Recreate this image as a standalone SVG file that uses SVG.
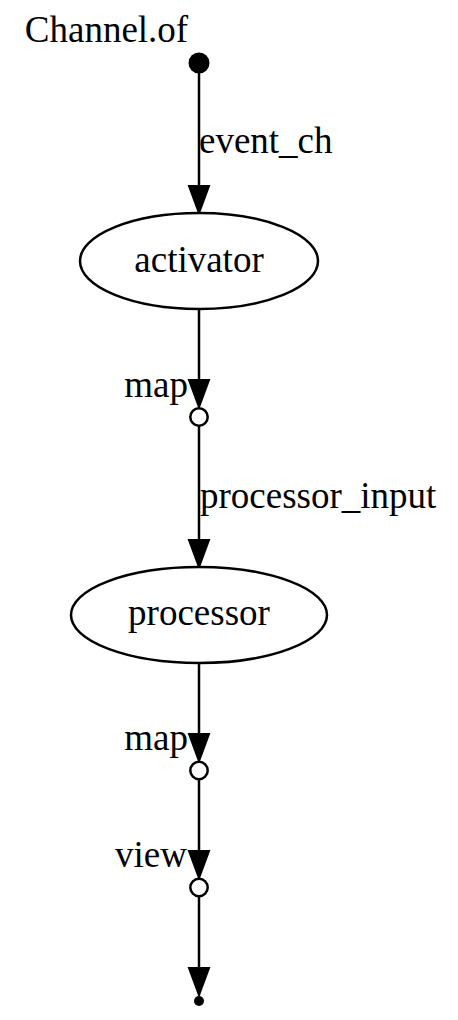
<svg xmlns="http://www.w3.org/2000/svg" width="458" height="1020" viewBox="0 0 458 1020">
<style>
text{font-family:"Liberation Serif","Times New Roman",serif;font-size:37px;fill:#000}
.n{fill:#fff;stroke:#000;stroke-width:2.5}
.e{stroke:#000;stroke-width:2.5;fill:none}
.a{fill:#000;stroke:#000;stroke-width:2}
</style>
<rect width="458" height="1020" fill="#fff"/>
<g id="connectors">
<line class="e" x1="199" y1="63" x2="199" y2="186"/>
<polygon class="a" points="189,186 209,186 199,213"/>
<text x="199" y="153">event_ch</text>
<line class="e" x1="199" y1="309" x2="199" y2="380"/>
<polygon class="a" points="189,380 209,380 199,407"/>
<text x="188" y="397" text-anchor="end">map</text>
<line class="e" x1="199" y1="426" x2="199" y2="540"/>
<polygon class="a" points="189,540 209,540 199,567"/>
<text x="200" y="508">processor_input</text>
<line class="e" x1="199" y1="663" x2="199" y2="734"/>
<polygon class="a" points="189,734 209,734 199,761"/>
<text x="188" y="750" text-anchor="end">map</text>
<line class="e" x1="199" y1="780" x2="199" y2="851"/>
<polygon class="a" points="189,851 209,851 199,878"/>
<text x="187" y="867" text-anchor="end">view</text>
<line class="e" x1="199" y1="897" x2="199" y2="968"/>
<polygon class="a" points="189,968 209,968 199,995"/>
</g>
<g id="start">
<circle cx="199" cy="63" r="10.5" fill="#000"/>
<text x="106.5" y="42" text-anchor="middle">Channel.of</text>
</g>
<g id="activator">
<ellipse class="n" cx="199" cy="261" rx="119" ry="48"/>
<text x="199" y="272" text-anchor="middle">activator</text>
</g>
<g id="map1">
<circle class="n" cx="199" cy="417" r="8.7"/>
</g>
<g id="processor">
<ellipse class="n" cx="199" cy="615" rx="128" ry="48"/>
<text x="199" y="625" text-anchor="middle">processor</text>
</g>
<g id="map2">
<circle class="n" cx="199" cy="770.5" r="8.7"/>
</g>
<g id="view">
<circle class="n" cx="199" cy="887.5" r="8.7"/>
</g>
<g id="end">
<circle cx="199" cy="1001" r="5" fill="#000"/>
</g>
</svg>
